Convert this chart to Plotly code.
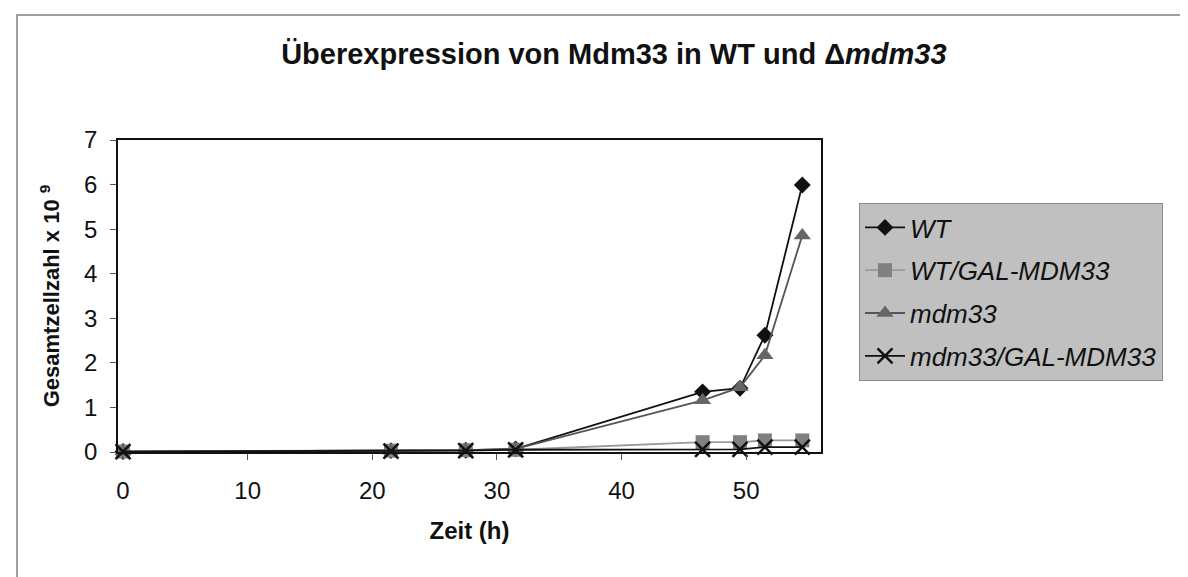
import plotly.graph_objects as go

# Zeitpunkte (h) und Gesamtzellzahl x 10^9
zeit = [0, 21.5, 27.5, 31.5, 46.5, 49.5, 51.5, 54.5]
wt = [0.01, 0.03, 0.04, 0.07, 1.35, 1.43, 2.62, 5.99]
wt_gal = [0.01, 0.03, 0.04, 0.05, 0.22, 0.22, 0.26, 0.26]
mdm33 = [0.01, 0.03, 0.04, 0.07, 1.16, 1.45, 2.17, 4.86]
mdm33_gal = [0.01, 0.02, 0.03, 0.05, 0.06, 0.06, 0.11, 0.11]

x_ticks = [0, 10, 20, 30, 40, 50]
y_ticks = [0, 1, 2, 3, 4, 5, 6, 7]

FONT = "Liberation Sans, Arial, sans-serif"

fig = go.Figure()

series = [
    ("<i>WT</i>", wt, "#111111", "#111111", "diamond", 13),
    ("<i>WT/GAL-MDM33</i>", wt_gal, "#9a9a9a", "#808080", "square", 14),
    ("<i>mdm33</i>", mdm33, "#555555", "#666666", "triangle-up", 15),
    ("<i>mdm33/GAL-MDM33</i>", mdm33_gal, "#111111", "#111111", "x-thin", 15),
]

for i, (name, ys, line_col, mk_col, sym, size) in enumerate(series):
    marker = dict(symbol=sym, size=size, color=mk_col)
    if sym == "x-thin":
        marker["line"] = dict(color=mk_col, width=2.5)
    fig.add_trace(go.Scatter(
        x=zeit, y=ys, name=name, mode="lines+markers",
        line=dict(color=line_col, width=1.8),
        marker=marker, cliponaxis=False, legendgroup=f"g{i}",
    ))

# outer chart border
fig.add_shape(type="rect", xref="paper", yref="paper",
              x0=(9 - 110) / 703, x1=(1186 - 110) / 703,
              y0=(444 - 585) / 312, y1=(444 - 7) / 312,
              line=dict(color="#a0a0a0", width=2), layer="below")

fig.update_layout(
    width=1188, height=577,
    margin=dict(l=110, r=375, t=132, b=133),
    paper_bgcolor="white", plot_bgcolor="white",
    font=dict(family=FONT, color="#111111"),
    title=dict(
        text="<b>Überexpression von Mdm33 in WT und \u0394<i>mdm33</i></b>",
        x=0.51, xanchor="center", y=0.92, yanchor="middle", yref="container",
        font=dict(size=29, family=FONT, color="#111111"),
    ),
    showlegend=True,
    legend=dict(
        x=(851 - 110) / 703, y=(444 - 195) / 312, xanchor="left", yanchor="top",
        bgcolor="#c0c0c0", bordercolor="#8a8a8a", borderwidth=1,
        font=dict(size=26, family=FONT, color="#111111"),
        tracegroupgap=6, itemwidth=40,
    ),
)

fig.update_xaxes(
    range=[-0.4, 56], tickvals=x_ticks, showgrid=False, zeroline=False,
    showline=True, linecolor="#111111", linewidth=1.5, mirror=True,
    ticks="outside", ticklen=6, tickcolor="#555555", ticklabelstandoff=10,
    tickfont=dict(size=24, family=FONT, color="#111111"),
    title=dict(text="<b>Zeit (h)</b>", font=dict(size=24, family=FONT), standoff=20),
)
fig.update_yaxes(
    range=[0, 7], tickvals=y_ticks, showgrid=False, zeroline=False,
    showline=True, linecolor="#111111", linewidth=1.5, mirror=True,
    ticks="outside", ticklen=6, tickcolor="#555555", ticklabelstandoff=8,
    tickfont=dict(size=24, family=FONT, color="#111111"),
    title=dict(text="<b>Gesamtzellzahl x 10 <sup>9</sup></b>", font=dict(size=22, family=FONT), standoff=18),
)

fig.write_html("out.html")
